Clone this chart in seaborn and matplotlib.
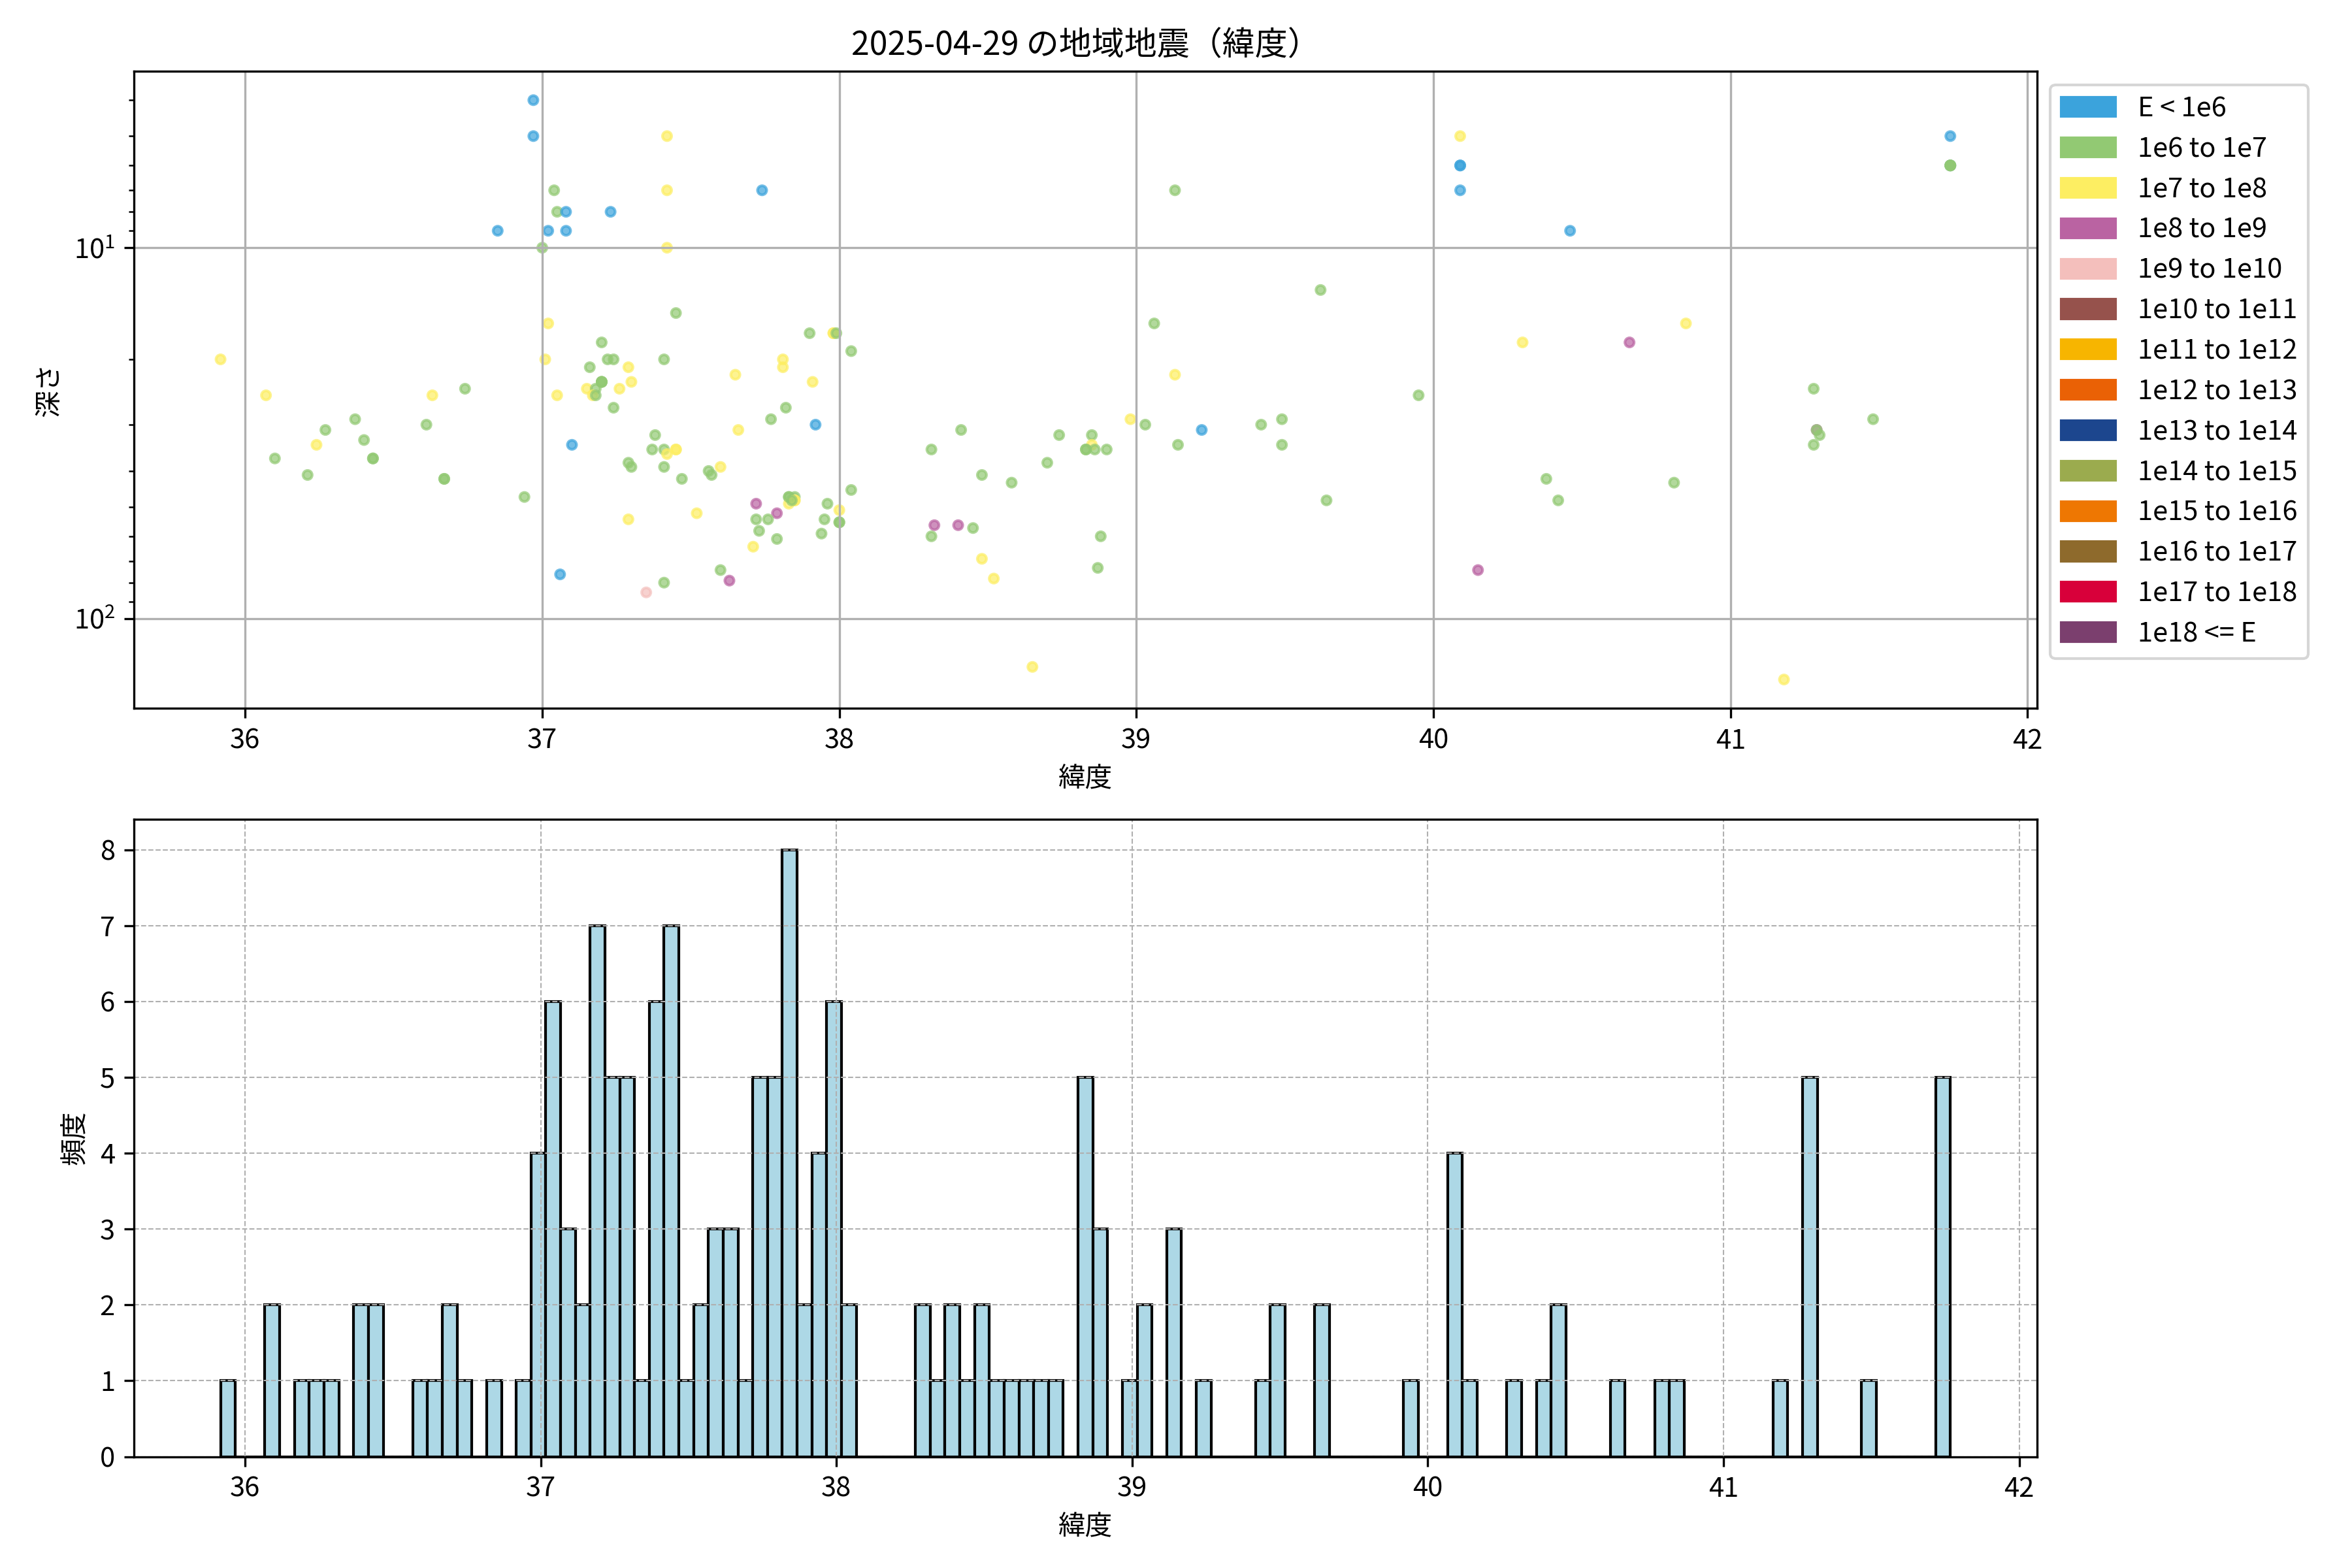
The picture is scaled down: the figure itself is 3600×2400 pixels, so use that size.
import matplotlib
matplotlib.use("Agg")
import matplotlib.pyplot as plt
from matplotlib.patches import Patch
import numpy as np
import pandas as pd
import seaborn as sns

plt.rcParams['font.family'] = ['Noto Sans CJK JP', 'DejaVu Sans']

title = "2025-04-29 の地域地震（緯度）"

energy_labels = ["E < 1e6", "1e6 to 1e7", "1e7 to 1e8", "1e8 to 1e9", "1e9 to 1e10",
                 "1e10 to 1e11", "1e11 to 1e12", "1e12 to 1e13", "1e13 to 1e14",
                 "1e14 to 1e15", "1e15 to 1e16", "1e16 to 1e17", "1e17 to 1e18", "1e18 <= E"]
energy_colors = ["#3ba3dc", "#92c973", "#fdee62", "#ba63a2", "#f4bfbc",
                 "#96524c", "#f7b500", "#ea6105", "#1c468e",
                 "#9bab4e", "#ee7702", "#8e6a2c", "#d8003a", "#7b3f6e"]

bin_width = 0.05

# latitude, depth (km), energy class (index into energy_labels)
lat = [
    # 36-37.6 shallow
    36.97, 36.97, 37.42, 37.04, 37.42, 37.74, 37.05, 37.08, 37.23, 36.85,
    37.02, 37.08, 37.00, 37.42, 37.45, 37.02, 37.20, 35.917, 37.01, 37.22,
    37.24, 37.41, 37.16, 37.29, 37.20, 37.20, 37.20, 37.30, 37.15, 37.18,
    37.26, 36.74, 36.07, 36.63, 37.05, 37.17, 37.18,
    # 36-37.6 deeper
    37.24, 36.37, 36.61, 36.27, 37.38, 36.24, 36.40, 37.10, 37.37, 37.41,
    37.45, 37.45, 37.42, 36.10, 36.43, 36.43, 37.29, 37.30, 37.41, 37.60,
    37.56, 37.57, 36.21, 36.67, 36.67, 37.47, 36.94, 37.52, 37.29, 37.06,
    37.60, 37.41, 37.35,
    # 37.6-39.7
    39.13, 39.62, 39.06, 37.90, 37.98, 37.98, 37.99, 38.04, 37.81, 37.81,
    37.65, 39.13, 37.91, 37.82, 37.77, 37.66, 37.92, 38.41, 38.31, 38.74,
    38.85, 38.85, 38.83, 38.83, 38.86, 38.90, 38.70, 38.48, 38.58, 38.98,
    39.03, 39.22, 39.14, 39.42, 39.49, 39.49, 39.64, 38.04, 37.83, 37.85,
    37.83, 37.85, 37.83, 37.85, 37.84, 37.96, 37.72, 38.00, 37.79, 37.72,
    37.76, 37.95, 38.00, 38.00, 37.73, 37.94, 37.79, 37.71, 37.63, 38.32,
    38.40, 38.45, 38.31, 38.88, 38.48, 38.87, 38.52, 38.65,
    # 39.7-42
    40.09, 40.09, 40.09, 40.09, 40.46, 41.74, 41.74, 41.74, 41.74, 41.74,
    39.95, 40.30, 40.66, 40.85, 41.28, 41.48, 41.29, 41.30, 41.28, 41.29,
    40.38, 40.81, 40.42, 40.15, 41.18,
]
depth = [
    4, 5, 5, 7, 7, 7, 8, 8, 8, 9,
    9, 9, 10, 10, 15, 16, 18, 20, 20, 20,
    20, 20, 21, 21, 23, 23, 23, 23, 24, 24,
    24, 24, 25, 25, 25, 25, 25,
    27, 29, 30, 31, 32, 34, 33, 34, 35, 35,
    35, 35, 36, 37, 37, 37, 38, 39, 39, 39,
    40, 41, 41, 42, 42, 42, 47, 52, 54, 76,
    74, 80, 85,
    7, 13, 16, 17, 17, 17, 17, 19, 20, 21,
    22, 22, 23, 27, 29, 31, 30, 31, 35, 32,
    32, 34, 35, 35, 35, 35, 38, 41, 43, 29,
    30, 31, 34, 30, 29, 34, 48, 45, 47, 47,
    49, 48, 47, 48, 48, 49, 49, 51, 52, 54,
    54, 54, 55, 55, 58, 59, 61, 64, 79, 56,
    56, 57, 60, 60, 69, 73, 78, 135,
    5, 6, 6, 7, 9, 5, 6, 6, 6, 6,
    25, 18, 18, 16, 24, 29, 31, 32, 34, 31,
    42, 43, 48, 74, 146,
]
energy = [
    0, 0, 2, 1, 2, 0, 1, 0, 0, 0,
    0, 0, 1, 2, 1, 2, 1, 2, 2, 1,
    1, 1, 1, 2, 1, 1, 1, 2, 2, 1,
    2, 1, 2, 2, 2, 2, 1,
    1, 1, 1, 1, 1, 2, 1, 0, 1, 1,
    2, 2, 2, 1, 1, 1, 1, 1, 1, 2,
    1, 1, 1, 1, 1, 1, 1, 2, 2, 0,
    1, 1, 4,
    1, 1, 1, 1, 2, 2, 1, 1, 2, 2,
    2, 2, 2, 1, 1, 2, 0, 1, 1, 1,
    1, 2, 1, 1, 1, 1, 1, 1, 1, 2,
    1, 0, 1, 1, 1, 1, 1, 1, 1, 1,
    2, 2, 1, 2, 1, 1, 3, 2, 3, 1,
    1, 1, 1, 1, 1, 1, 1, 2, 3, 3,
    3, 1, 1, 1, 2, 1, 2, 2,
    2, 0, 0, 0, 0, 0, 0, 1, 1, 1,
    1, 2, 3, 2, 1, 1, 3, 1, 1, 1,
    1, 1, 1, 3, 2,
]

df = pd.DataFrame({"緯度": lat, "深さ": depth,
                   "energy": [energy_labels[i] for i in energy]})
palette = dict(zip(energy_labels, energy_colors))

# fixed-width bins starting at the smallest latitude
n_bins = int(np.ceil((df["緯度"].max() - df["緯度"].min()) / bin_width))
bin_edges = df["緯度"].min() + bin_width * np.arange(n_bins + 1)

fig, (ax1, ax2) = plt.subplots(2, 1, figsize=(12, 8), dpi=300)
fig.subplots_adjust(left=0.057, right=0.866, top=0.9546, bottom=0.071, hspace=0.174)

# scatter: latitude vs depth
sns.scatterplot(data=df, x="緯度", y="深さ", hue="energy", hue_order=energy_labels,
                palette=palette, s=11, alpha=0.7, edgecolor="face", linewidth=1.0,
                legend=False, ax=ax1)
ax1.set_yscale("log")
ax1.invert_yaxis()
ax1.set_title(title, fontsize=12)
ax1.set_xlabel("緯度")
ax1.set_ylabel("深さ")
ax1.grid(True)
handles = [Patch(color=c, label=l) for l, c in zip(energy_labels, energy_colors)]
ax1.legend(handles=handles, loc="upper left", bbox_to_anchor=(1, 1))

# histogram of latitude
sns.histplot(x=df["緯度"], bins=bin_edges, color="lightblue", edgecolor="black",
             alpha=1, linewidth=1.0, ax=ax2)
ax2.set_xlabel("緯度")
ax2.set_ylabel("頻度")
ax2.grid(True, linestyle="--", linewidth=0.5)

plt.savefig("out.png", dpi=300)
